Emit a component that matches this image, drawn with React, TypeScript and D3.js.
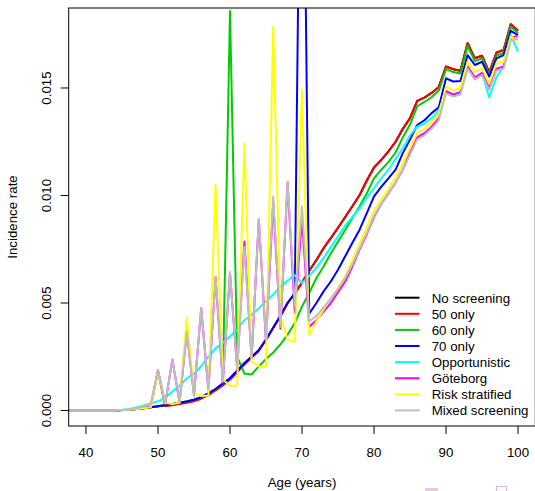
import * as d3 from 'd3';
import { useEffect, useRef } from 'react';

// ages 35..100, one value per year
const ages = [
  35, 36, 37, 38, 39, 40, 41, 42, 43, 44, 45, 46, 47, 48, 49,
  50, 51, 52, 53, 54, 55, 56, 57, 58, 59, 60, 61, 62, 63, 64, 65, 66, 67, 68, 69,
  70, 71, 72, 73, 74, 75, 76, 77, 78, 79, 80, 81, 82, 83, 84, 85, 86, 87, 88, 89,
  90, 91, 92, 93, 94, 95, 96, 97, 98, 99, 100,
];

// incidence values, per 1000
const noScreening = [
  0, 0, 0, 0, 0, 0, 0, 0, 0, 0, 0.02, 0.04, 0.07, 0.1, 0.15,
  0.2, 0.25, 0.3, 0.36, 0.42, 0.5, 0.62, 0.8, 1.0, 1.25,
  1.5, 1.85, 2.2, 2.5, 2.8, 3.3, 3.85, 4.4, 5.0, 5.45,
  5.95, 6.5, 7.0, 7.55, 8.02, 8.5, 9.0, 9.5, 10.02, 10.7,
  11.3, 11.65, 12.05, 12.5, 13.1, 13.6, 14.4, 14.55, 14.77, 15.05,
  16.0, 15.87, 15.8, 17.08, 16.38, 16.5, 15.72, 16.64, 16.77, 17.97, 17.66,
];
const only50 = [
  0, 0, 0, 0, 0, 0, 0, 0, 0, 0, 0.02, 0.04, 0.07, 0.1, 0.15,
  1.85, 0.2, 0.24, 0.3, 0.36, 0.43, 0.55, 0.72, 0.93, 1.17,
  1.43, 1.78, 2.14, 2.45, 2.77, 3.28, 3.85, 4.4, 5.0, 5.45,
  5.95, 6.5, 7.0, 7.55, 8.02, 8.5, 9.0, 9.5, 10.02, 10.7,
  11.3, 11.65, 12.05, 12.5, 13.1, 13.6, 14.4, 14.55, 14.77, 15.05,
  16.0, 15.87, 15.8, 17.08, 16.38, 16.5, 15.72, 16.64, 16.77, 17.97, 17.66,
];
const only60 = [
  0, 0, 0, 0, 0, 0, 0, 0, 0, 0, 0.02, 0.04, 0.07, 0.1, 0.15,
  0.2, 0.25, 0.3, 0.36, 0.42, 0.5, 0.62, 0.8, 1.0, 1.25,
  18.58, 2.5, 1.72, 1.68, 2.05, 2.4, 2.7, 3.07, 3.53, 4.07,
  4.84, 5.47, 6.16, 6.7, 7.3, 7.85, 8.4, 8.95, 9.5, 10.1,
  10.8, 11.2, 11.55, 12.0, 12.7, 13.3, 14.15, 14.35, 14.57, 14.88,
  15.88, 15.74, 15.67, 16.95, 16.25, 16.38, 15.58, 16.5, 16.63, 17.85, 17.56,
];
const only70 = [
  0, 0, 0, 0, 0, 0, 0, 0, 0, 0, 0.02, 0.04, 0.07, 0.1, 0.15,
  0.2, 0.25, 0.3, 0.36, 0.42, 0.5, 0.62, 0.8, 1.0, 1.25,
  1.5, 1.85, 2.2, 2.5, 2.8, 3.3, 3.85, 4.4, 5.0, 5.45,
  35.0, 4.5, 5.0, 5.54, 6.0, 6.55, 7.17, 7.8, 8.41, 9.18,
  9.96, 10.4, 10.8, 11.2, 11.97, 12.6, 13.28, 13.5, 13.83, 14.1,
  15.45, 15.3, 15.32, 16.53, 16.07, 16.22, 15.53, 16.38, 16.53, 17.66, 17.46,
];
const opportunistic = [
  0, 0, 0, 0, 0, 0, 0, 0, 0, 0, 0.03, 0.07, 0.14, 0.23, 0.33,
  0.43, 0.6, 0.88, 1.15, 1.5, 1.7, 2.06, 2.5, 2.9, 3.14,
  3.45, 3.76, 4.2, 4.45, 4.75, 5.08, 5.4, 5.75, 6.05, 6.3,
  5.93, 6.25, 6.65, 7.1, 7.6, 8.1, 8.6, 9.0, 9.4, 9.9,
  10.35, 10.8, 11.2, 11.7, 12.2, 12.8, 13.2, 13.35, 13.6, 13.95,
  14.83, 14.7, 14.8, 15.99, 15.4, 15.67, 14.57, 15.5, 15.99, 17.46, 16.69,
];
const goteborg = [
  0, 0, 0, 0, 0, 0, 0, 0, 0, 0, 0.02, 0.04, 0.07, 0.12, 0.2,
  1.87, 0.3, 2.37, 0.36, 3.68, 0.7, 4.77, 0.95, 6.21, 1.3,
  6.42, 1.9, 7.86, 2.4, 8.9, 3.2, 9.7, 3.8, 10.6, 4.55,
  8.9, 3.9, 4.2, 4.6, 5.0, 5.5, 6.0, 6.7, 7.5, 8.2,
  9.0, 9.6, 10.1, 10.6, 11.2, 12.0, 12.7, 12.9, 13.2, 13.6,
  14.85, 14.7, 14.8, 16.0, 15.5, 15.7, 15.0, 15.9, 16.0, 17.3, 17.45,
];
const riskStratified = [
  0, 0, 0, 0, 0, 0, 0, 0, 0, 0, 0.02, 0.04, 0.07, 0.1, 0.15,
  1.8, 0.36, 0.3, 0.36, 4.33, 0.82, 0.67, 0.7, 10.5, 1.44,
  1.15, 1.15, 12.43, 2.3, 2.05, 2.05, 17.86, 4.38, 3.3, 3.2,
  14.92, 3.53, 4.15, 4.7, 5.2, 5.7, 6.25, 7.0, 7.75, 8.5,
  9.3, 9.8, 10.3, 10.85, 11.5, 12.2, 12.9, 13.1, 13.4, 13.8,
  15.06, 14.9, 15.0, 16.22, 15.76, 15.9, 15.22, 16.15, 16.22, 17.38, 17.2,
];
const mixedScreening = [
  0, 0, 0, 0, 0, 0, 0, 0, 0, 0, 0.02, 0.05, 0.1, 0.2, 0.3,
  1.87, 0.33, 2.37, 0.38, 3.68, 0.72, 4.77, 1.0, 6.21, 1.36,
  6.42, 1.95, 7.6, 2.5, 8.9, 3.3, 9.95, 3.9, 10.65, 4.9,
  9.49, 4.15, 4.4, 4.8, 5.2, 5.65, 6.15, 6.8, 7.55, 8.25,
  9.05, 9.6, 10.1, 10.6, 11.2, 11.9, 12.6, 12.8, 13.1, 13.5,
  14.75, 14.6, 14.7, 15.9, 15.4, 15.6, 14.9, 15.8, 15.9, 17.2, 17.3,
];

const seriesNames = [
  'No screening', '50 only', '60 only', '70 only',
  'Opportunistic', 'Göteborg', 'Risk stratified', 'Mixed screening',
];
const seriesValues = [
  noScreening, only50, only60, only70,
  opportunistic, goteborg, riskStratified, mixedScreening,
];
const seriesColors = [
  '#000000', '#FF0000', '#00CD00', '#0000FF',
  '#00FFFF', '#FF00FF', '#FFFF00', '#BEBEBE',
];

const xTicks = [40, 50, 60, 70, 80, 90, 100];
const yTicks = [0, 0.005, 0.01, 0.015];
const yTickLabels = ['0.000', '0.005', '0.010', '0.015'];

export default function App() {
  const ref = useRef(null);

  useEffect(() => {
    const width = 535;
    const height = 491;
    const left = 68.7;
    const right = 535.3;
    const top = 8;
    const bottom = 426;
    const font = '"Liberation Sans", Arial, Helvetica, sans-serif';
    const fs = '13.3px';

    d3.select(ref.current).selectAll('*').remove();

    const svg = d3
      .select(ref.current)
      .append('svg')
      .attr('width', width)
      .attr('height', height)
      .style('display', 'block')
      .style('background', '#fff');

    // R style 4% padding on both axes
    const x = d3.scaleLinear().domain([37.6, 102.4]).range([left, right]);
    const y = d3.scaleLinear().domain([-0.00072, 0.01872]).range([bottom, top]);

    svg
      .append('clipPath')
      .attr('id', 'plot-clip')
      .append('rect')
      .attr('x', left)
      .attr('y', top)
      .attr('width', right - left)
      .attr('height', bottom - top);

    /* ---------- LINES ---------- */
    const line = d3
      .line()
      .x((d, i) => x(ages[i]))
      .y(d => y(d / 1000));

    const lines = svg.append('g').attr('clip-path', 'url(#plot-clip)');
    seriesValues.forEach((vals, k) => {
      lines
        .append('path')
        .attr('d', line(vals))
        .attr('fill', 'none')
        .attr('stroke', seriesColors[k])
        .attr('stroke-width', 2)
        .attr('stroke-linejoin', 'round');
    });

    /* ---------- BOX + AXES ---------- */
    svg
      .append('rect')
      .attr('x', left)
      .attr('y', top)
      .attr('width', right - left)
      .attr('height', bottom - top)
      .attr('fill', 'none')
      .attr('stroke', '#000')
      .attr('stroke-width', 1);

    const xAxis = svg.append('g');
    xTicks.forEach(t => {
      xAxis
        .append('line')
        .attr('x1', x(t))
        .attr('x2', x(t))
        .attr('y1', bottom)
        .attr('y2', bottom + 8)
        .attr('stroke', '#000');
      xAxis
        .append('text')
        .attr('x', x(t))
        .attr('y', 456.5)
        .attr('text-anchor', 'middle')
        .style('font-family', font)
        .style('font-size', fs)
        .text(t);
    });

    const yAxis = svg.append('g');
    yTicks.forEach((t, i) => {
      yAxis
        .append('line')
        .attr('x1', left - 8)
        .attr('x2', left)
        .attr('y1', y(t))
        .attr('y2', y(t))
        .attr('stroke', '#000');
      yAxis
        .append('text')
        .attr('transform', `translate(50.7,${y(t)}) rotate(-90)`)
        .attr('text-anchor', 'middle')
        .style('font-family', font)
        .style('font-size', fs)
        .text(yTickLabels[i]);
    });

    svg
      .append('text')
      .attr('x', (left + right) / 2)
      .attr('y', 487.3)
      .attr('text-anchor', 'middle')
      .style('font-family', font)
      .style('font-size', fs)
      .text('Age (years)');

    svg
      .append('text')
      .attr('transform', `translate(17,${(top + bottom) / 2}) rotate(-90)`)
      .attr('text-anchor', 'middle')
      .style('font-family', font)
      .style('font-size', fs)
      .text('Incidence rate');

    /* ---------- LEGEND ---------- */
    const legend = svg.append('g');
    seriesNames.forEach((name, i) => {
      const ry = 297.7 + i * 16.1;
      legend
        .append('line')
        .attr('x1', 395)
        .attr('x2', 419.5)
        .attr('y1', ry)
        .attr('y2', ry)
        .attr('stroke', seriesColors[i])
        .attr('stroke-width', 2);
      legend
        .append('text')
        .attr('x', 431.7)
        .attr('y', ry + 4.8)
        .style('font-family', font)
        .style('font-size', fs)
        .text(name);
    });

    /* ---------- faint marks cut off at the bottom ---------- */
    svg
      .append('rect')
      .attr('x', 425)
      .attr('y', 488)
      .attr('width', 13)
      .attr('height', 3)
      .attr('fill', '#f0c6e2');
    svg
      .append('rect')
      .attr('x', 496.5)
      .attr('y', 486.5)
      .attr('width', 10)
      .attr('height', 6)
      .attr('fill', 'none')
      .attr('stroke', '#e8b4d8');
  }, []);

  return (
    <div style={{ position: 'absolute', left: 0, top: 0 }}>
      <div ref={ref} />
    </div>
  );
}
